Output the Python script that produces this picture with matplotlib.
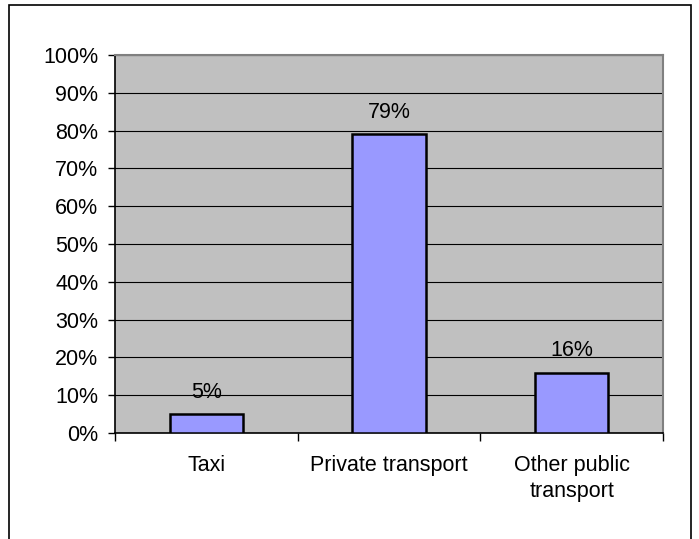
import matplotlib.pyplot as plt
from matplotlib.patches import Rectangle

plt.rcParams['font.family'] = ['Liberation Sans', 'DejaVu Sans']

# Data
categories = ["Taxi", "Private transport", "Other public\ntransport"]
values = [5, 79, 16]
yticks = list(range(0, 101, 10))

fs = 15.5

fig = plt.figure(figsize=(6.99, 5.39), dpi=100)
ax = fig.add_axes([115/699, 1-433/539, (663-115)/699, (433-55)/539])

# outer chart frame (bottom runs off the image)
fig.patches.append(Rectangle((9/699, -0.05), (691-9)/699, 1-5/539+0.05,
                             transform=fig.transFigure, fill=False,
                             edgecolor='black', linewidth=1.2))

ax.set_facecolor('#C0C0C0')
x = list(range(len(categories)))
ax.bar(x, values, width=0.4, color='#9999FF', edgecolor='black',
       linewidth=1.8, zorder=3)

for xi, v in zip(x, values):
    ax.annotate(f"{v}%", (xi, v), xytext=(0, 8), textcoords='offset points',
                ha='center', va='bottom', fontsize=fs)

ax.set_xlim(-0.5, len(categories) - 0.5)
ax.set_ylim(0, 100)
ax.set_yticks(yticks)
ax.set_yticklabels([f"{t}%" for t in yticks], fontsize=fs)
ax.yaxis.grid(True, color='black', linewidth=0.8, zorder=0)
ax.set_axisbelow(True)

ax.set_xticks(x)
ax.set_xticklabels(categories, fontsize=fs, linespacing=1.3)
ax.tick_params(axis='x', length=0, pad=16)
ax.set_xticks([-0.5, 0.5, 1.5, 2.5], minor=True)
ax.tick_params(axis='x', which='minor', length=6, width=1, direction='out')
ax.tick_params(axis='y', length=5, width=1, direction='out', pad=7)

for s in ['left', 'bottom']:
    ax.spines[s].set_color('black')
    ax.spines[s].set_linewidth(1.2)
for s in ['top', 'right']:
    ax.spines[s].set_color('#808080')
    ax.spines[s].set_linewidth(1.5)

fig.savefig("out.png", dpi=100)
